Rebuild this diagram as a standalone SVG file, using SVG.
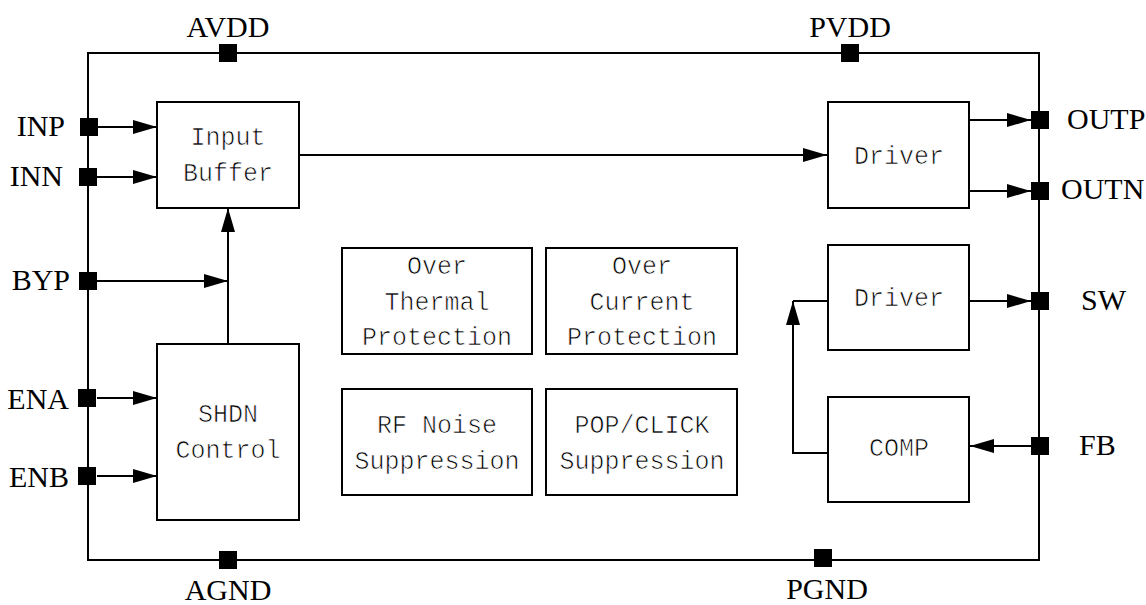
<svg xmlns="http://www.w3.org/2000/svg" width="1146" height="605" viewBox="0 0 1146 605">
<style>
.box{fill:#fff;stroke:#000;stroke-width:2}
.ln{fill:none;stroke:#000;stroke-width:2}
.pin{fill:#000}
.pl{font-family:"Liberation Serif","Times New Roman",serif;font-size:30px;fill:#000}
.bt{font-family:"Liberation Mono","Courier New",monospace;font-size:25px;fill:#000;text-anchor:middle;stroke:#fff;stroke-width:0.7}
</style>
<defs>
<marker id="ah" markerUnits="userSpaceOnUse" markerWidth="24" markerHeight="14" refX="24" refY="7" orient="auto">
<path d="M0,0 L24,7 L0,14 z" fill="#000"/>
</marker>
</defs>
<rect width="1146" height="605" fill="#fff"/>
<g id="chip">
<rect x="88" y="53" width="951" height="507" class="ln"/>
</g>
<g id="connectors">
<line x1="97" y1="127" x2="157" y2="127" class="ln" marker-end="url(#ah)"/>
<line x1="97" y1="177" x2="157" y2="177" class="ln" marker-end="url(#ah)"/>
<line x1="97" y1="281" x2="228" y2="281" class="ln" marker-end="url(#ah)"/>
<line x1="97" y1="398" x2="157" y2="398" class="ln" marker-end="url(#ah)"/>
<line x1="97" y1="476" x2="157" y2="476" class="ln" marker-end="url(#ah)"/>
<line x1="228" y1="344" x2="228" y2="208" class="ln" marker-end="url(#ah)"/>
<line x1="299" y1="155" x2="827" y2="155" class="ln" marker-end="url(#ah)"/>
<line x1="969" y1="120" x2="1031" y2="120" class="ln" marker-end="url(#ah)"/>
<line x1="969" y1="191" x2="1031" y2="191" class="ln" marker-end="url(#ah)"/>
<line x1="969" y1="301" x2="1031" y2="301" class="ln" marker-end="url(#ah)"/>
<line x1="1031" y1="446" x2="970" y2="446" class="ln" marker-end="url(#ah)"/>
<polyline points="828,453 793,453 793,301" class="ln" marker-end="url(#ah)"/>
<line x1="793" y1="301" x2="828" y2="301" class="ln"/>
</g>
<g id="pins">
<g id="pin-avdd"><rect x="219" y="44" width="18" height="18" class="pin"/><text x="228" y="37" class="pl" text-anchor="middle">AVDD</text></g>
<g id="pin-pvdd"><rect x="841" y="44" width="18" height="18" class="pin"/><text x="850" y="37" class="pl" text-anchor="middle">PVDD</text></g>
<g id="pin-inp"><rect x="80" y="118" width="18" height="18" class="pin"/><text x="65" y="136" class="pl" text-anchor="end">INP</text></g>
<g id="pin-inn"><rect x="79" y="168" width="18" height="18" class="pin"/><text x="63" y="186" class="pl" text-anchor="end">INN</text></g>
<g id="pin-byp"><rect x="79" y="272" width="18" height="18" class="pin"/><text x="70" y="290" class="pl" text-anchor="end">BYP</text></g>
<g id="pin-ena"><rect x="78" y="389" width="18" height="18" class="pin"/><text x="69" y="409" class="pl" text-anchor="end">ENA</text></g>
<g id="pin-enb"><rect x="78" y="467" width="18" height="18" class="pin"/><text x="69" y="487" class="pl" text-anchor="end">ENB</text></g>
<g id="pin-agnd"><rect x="219" y="551" width="18" height="18" class="pin"/><text x="228" y="600" class="pl" text-anchor="middle">AGND</text></g>
<g id="pin-pgnd"><rect x="814" y="549" width="18" height="18" class="pin"/><text x="827" y="599" class="pl" text-anchor="middle">PGND</text></g>
<g id="pin-outp"><rect x="1031" y="111" width="18" height="18" class="pin"/><text x="1067" y="129" class="pl">OUTP</text></g>
<g id="pin-outn"><rect x="1031" y="182" width="18" height="18" class="pin"/><text x="1061" y="199" class="pl">OUTN</text></g>
<g id="pin-sw"><rect x="1031" y="292" width="18" height="18" class="pin"/><text x="1081" y="310" class="pl">SW</text></g>
<g id="pin-fb"><rect x="1031" y="437" width="18" height="18" class="pin"/><text x="1079" y="455" class="pl">FB</text></g>
</g>
<g id="input-buffer"><rect x="157" y="102" width="142" height="106" class="box"/><text x="228" y="145" class="bt">Input</text><text x="228" y="181" class="bt">Buffer</text></g>
<g id="shdn-control"><rect x="157" y="344" width="142" height="176" class="box"/><text x="228" y="422" class="bt">SHDN</text><text x="228" y="458" class="bt">Control</text></g>
<g id="otp"><rect x="342" y="248" width="190" height="106" class="box"/><text x="437" y="274" class="bt">Over</text><text x="437" y="310" class="bt">Thermal</text><text x="437" y="345" class="bt">Protection</text></g>
<g id="ocp"><rect x="546" y="248" width="191" height="106" class="box"/><text x="642" y="274" class="bt">Over</text><text x="642" y="310" class="bt">Current</text><text x="642" y="345" class="bt">Protection</text></g>
<g id="rf-noise"><rect x="342" y="389" width="190" height="106" class="box"/><text x="437" y="433" class="bt">RF Noise</text><text x="437" y="469" class="bt">Suppression</text></g>
<g id="pop-click"><rect x="546" y="389" width="191" height="106" class="box"/><text x="642" y="433" class="bt">POP/CLICK</text><text x="642" y="469" class="bt">Suppression</text></g>
<g id="driver1"><rect x="828" y="102" width="141" height="106" class="box"/><text x="899" y="164" class="bt">Driver</text></g>
<g id="driver2"><rect x="828" y="245" width="141" height="105" class="box"/><text x="899" y="306" class="bt">Driver</text></g>
<g id="comp"><rect x="828" y="397" width="141" height="105" class="box"/><text x="899" y="456" class="bt">COMP</text></g>
</svg>
